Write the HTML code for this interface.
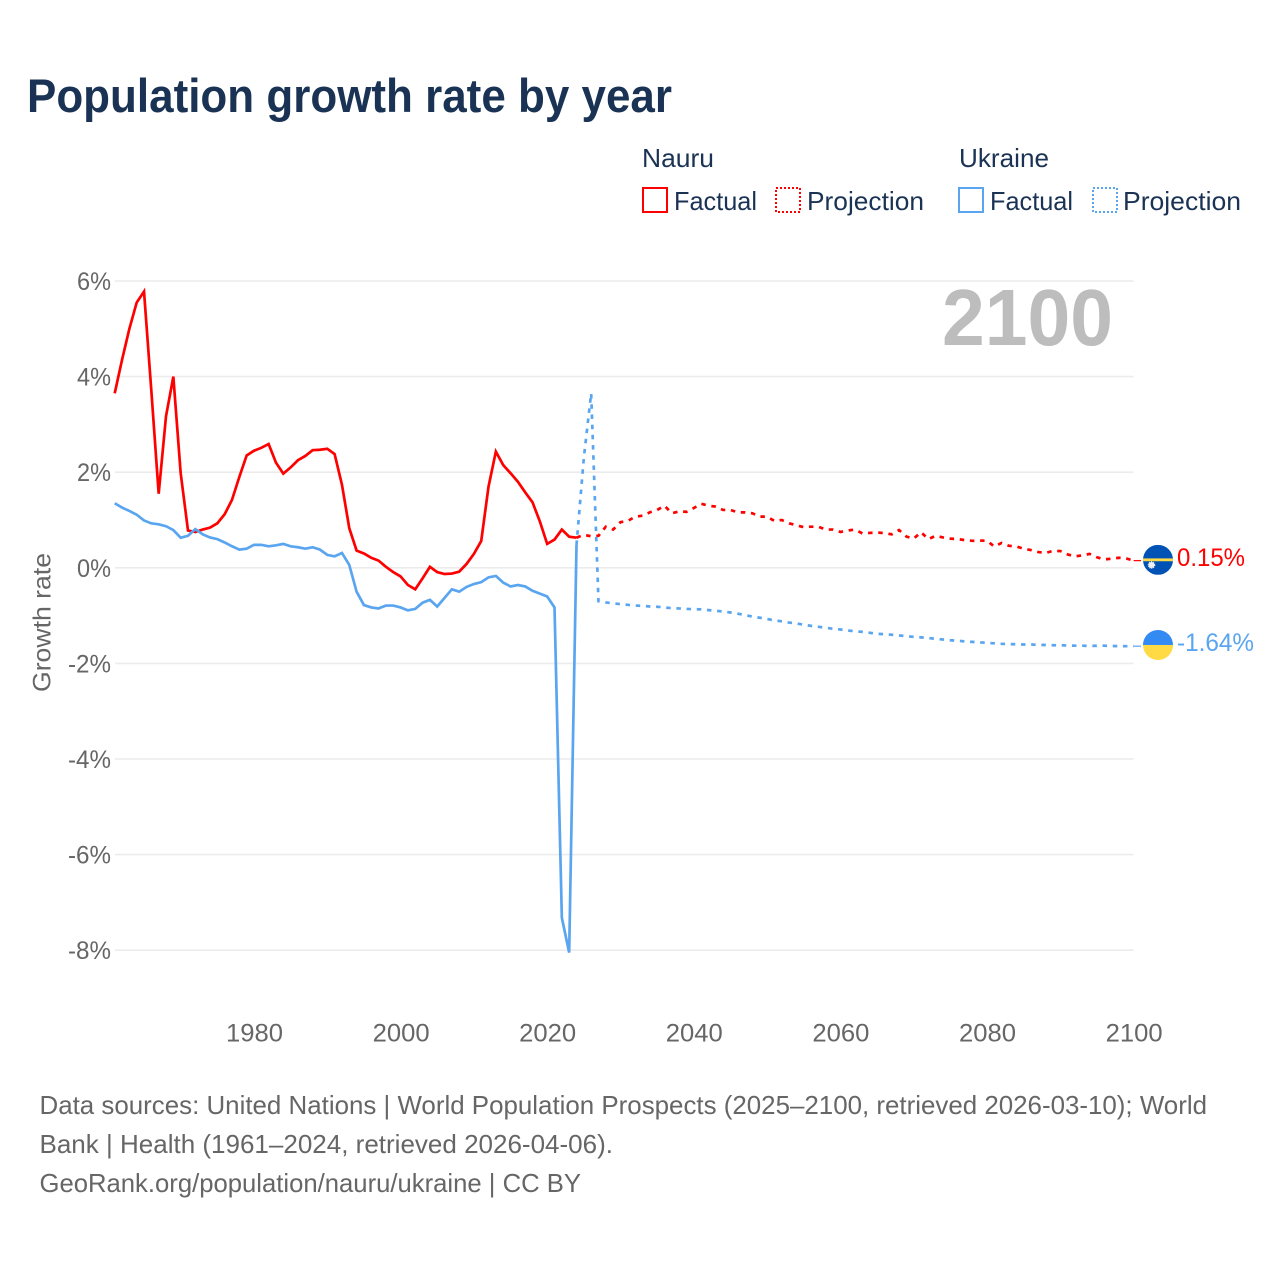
<!DOCTYPE html>
<html lang="en">
<head>
<meta charset="utf-8">
<title>Population growth rate by year</title>
<style>
html,body{margin:0;padding:0;background:#fff;}
#chart{display:block;width:1280px;height:1280px;font-family:"Liberation Sans",sans-serif;}
</style>
</head>
<body>
<svg id="chart" xmlns="http://www.w3.org/2000/svg" width="1280" height="1280" viewBox="0 0 1280 1280">
  <rect x="0" y="0" width="1280" height="1280" fill="#ffffff"/>
  <text x="27" y="112" font-size="47" font-weight="700" fill="#1a3354" textLength="645" lengthAdjust="spacingAndGlyphs">Population growth rate by year</text>

  <g font-size="26" fill="#1a3354">
    <text x="642" y="167" textLength="72" lengthAdjust="spacingAndGlyphs">Nauru</text>
    <rect x="643" y="188" width="24" height="24" fill="none" stroke="#ff0000" stroke-width="2"/>
    <text x="674" y="210" textLength="83" lengthAdjust="spacingAndGlyphs">Factual</text>
    <rect x="776" y="188" width="24" height="24" fill="none" stroke="#ff0000" stroke-width="2" stroke-dasharray="2 2"/>
    <text x="807" y="210" textLength="117" lengthAdjust="spacingAndGlyphs">Projection</text>
    <text x="959" y="167" textLength="90" lengthAdjust="spacingAndGlyphs">Ukraine</text>
    <rect x="959" y="188" width="24" height="24" fill="none" stroke="#5aa5f0" stroke-width="2"/>
    <text x="990" y="210" textLength="83" lengthAdjust="spacingAndGlyphs">Factual</text>
    <rect x="1093" y="188" width="24" height="24" fill="none" stroke="#5aa5f0" stroke-width="2" stroke-dasharray="2 2"/>
    <text x="1123" y="210" textLength="118" lengthAdjust="spacingAndGlyphs">Projection</text>
  </g>

  <g id="grid"></g>
  <g id="yticks" font-size="25" fill="#666666" text-anchor="end"></g>
  <g id="xticks" font-size="25" fill="#666666" text-anchor="middle"></g>
  <text transform="translate(50.5 692) rotate(-90)" font-size="25" fill="#666666" textLength="139" lengthAdjust="spacingAndGlyphs">Growth rate</text>
  <text id="current-year" x="1113" y="345" font-size="80" font-weight="700" fill="#bdbdbd" text-anchor="end" textLength="171" lengthAdjust="spacingAndGlyphs">2100</text>
  <g id="series"></g>

  <defs>
    <clipPath id="flag-clip"><circle cx="0" cy="0" r="15"/></clipPath>
  </defs>
  <g id="flag-nauru" clip-path="url(#flag-clip)">
    <rect x="-15" y="-15" width="30" height="30" fill="#0052b4"/>
    <rect x="-15" y="-1.4" width="30" height="2.8" fill="#ffda44"/>
    <circle cx="-6.5" cy="5.2" r="3" fill="#f0f0f0" stroke="#f0f0f0" stroke-width="1.6" stroke-dasharray="1 0.9"/>
  </g>
  <g id="flag-ukraine" clip-path="url(#flag-clip)">
    <rect x="-15" y="-15" width="30" height="15" fill="#338af3"/>
    <rect x="-15" y="0" width="30" height="15" fill="#ffda44"/>
  </g>
  <text id="value-nauru" x="1177" font-size="25" fill="#ff0000" textLength="68" lengthAdjust="spacingAndGlyphs"></text>
  <text id="value-ukraine" x="1177" font-size="25" fill="#5aa5f0" textLength="77" lengthAdjust="spacingAndGlyphs"></text>

  <g font-size="26" fill="#666666">
    <text x="39.5" y="1114" textLength="1167.5" lengthAdjust="spacingAndGlyphs">Data sources: United Nations | World Population Prospects (2025–2100, retrieved 2026-03-10); World</text>
    <text x="39.5" y="1153" textLength="573.5" lengthAdjust="spacingAndGlyphs">Bank | Health (1961–2024, retrieved 2026-04-06).</text>
    <text x="39.5" y="1192" textLength="541.5" lengthAdjust="spacingAndGlyphs">GeoRank.org/population/nauru/ukraine | CC BY</text>
  </g>
</svg>
<script>
const factualYears = [1961,1962,1963,1964,1965,1966,1967,1968,1969,1970,1971,1972,1973,1974,1975,1976,1977,1978,1979,1980,1981,1982,1983,1984,1985,1986,1987,1988,1989,1990,1991,1992,1993,1994,1995,1996,1997,1998,1999,2000,2001,2002,2003,2004,2005,2006,2007,2008,2009,2010,2011,2012,2013,2014,2015,2016,2017,2018,2019,2020,2021,2022,2023,2024];
const projectionYears = [2024,2025,2026,2027,2028,2029,2030,2031,2032,2033,2034,2035,2036,2037,2038,2039,2040,2041,2042,2043,2044,2045,2046,2047,2048,2049,2050,2051,2052,2053,2054,2055,2056,2057,2058,2059,2060,2061,2062,2063,2064,2065,2066,2067,2068,2069,2070,2071,2072,2073,2074,2075,2076,2077,2078,2079,2080,2081,2082,2083,2084,2085,2086,2087,2088,2089,2090,2091,2092,2093,2094,2095,2096,2097,2098,2099,2100];
const nauruFactual = [3.65,4.35,5.0,5.55,5.78,3.7,1.55,3.17,4.0,1.98,0.78,0.75,0.8,0.84,0.93,1.12,1.42,1.9,2.35,2.45,2.51,2.59,2.2,1.97,2.1,2.25,2.34,2.46,2.47,2.49,2.38,1.74,0.83,0.36,0.3,0.21,0.15,0.02,-0.09,-0.18,-0.36,-0.45,-0.22,0.02,-0.09,-0.13,-0.12,-0.08,0.08,0.29,0.56,1.7,2.43,2.15,1.98,1.8,1.58,1.37,0.97,0.5,0.59,0.8,0.65,0.63];
const ukraineFactual = [1.35,1.26,1.19,1.11,0.99,0.93,0.91,0.87,0.79,0.63,0.67,0.81,0.7,0.635,0.6,0.53,0.45,0.38,0.4,0.48,0.48,0.45,0.47,0.5,0.45,0.43,0.4,0.43,0.38,0.27,0.24,0.31,0.06,-0.5,-0.78,-0.83,-0.85,-0.79,-0.79,-0.83,-0.89,-0.86,-0.73,-0.67,-0.81,-0.63,-0.45,-0.5,-0.4,-0.34,-0.3,-0.2,-0.17,-0.31,-0.39,-0.36,-0.39,-0.48,-0.54,-0.6,-0.83,-7.32,-8.05,0.48];
const nauruProjection = [0.63,0.69,0.66,0.67,0.86,0.8,0.955,0.98,1.07,1.09,1.16,1.21,1.3,1.14,1.18,1.17,1.25,1.34,1.3,1.28,1.21,1.21,1.16,1.16,1.14,1.07,1.07,0.98,1.0,0.93,0.89,0.85,0.86,0.86,0.8,0.8,0.75,0.78,0.8,0.72,0.73,0.74,0.725,0.7,0.79,0.655,0.61,0.745,0.6,0.67,0.635,0.61,0.6,0.58,0.565,0.57,0.565,0.445,0.52,0.46,0.445,0.4,0.37,0.33,0.31,0.355,0.35,0.28,0.24,0.26,0.29,0.22,0.175,0.19,0.21,0.195,0.15];
const ukraineProjection = [0.48,2.3,3.65,-0.7,-0.725,-0.745,-0.76,-0.775,-0.79,-0.795,-0.81,-0.815,-0.83,-0.845,-0.85,-0.86,-0.865,-0.87,-0.885,-0.9,-0.915,-0.935,-0.96,-0.99,-1.02,-1.045,-1.07,-1.1,-1.12,-1.145,-1.165,-1.19,-1.215,-1.235,-1.255,-1.275,-1.29,-1.31,-1.33,-1.34,-1.36,-1.38,-1.39,-1.4,-1.415,-1.43,-1.445,-1.455,-1.47,-1.485,-1.5,-1.515,-1.525,-1.54,-1.55,-1.56,-1.57,-1.58,-1.59,-1.595,-1.6,-1.605,-1.605,-1.61,-1.615,-1.62,-1.62,-1.625,-1.63,-1.63,-1.635,-1.63,-1.63,-1.635,-1.64,-1.64,-1.64];
const yTickValues = [6,4,2,0,-2,-4,-6,-8];
const yTickLabels = ['6%','4%','2%','0%','-2%','-4%','-6%','-8%'];
const xTickValues = [1980,2000,2020,2040,2060,2080,2100];
const xTickLabels = ['1980','2000','2020','2040','2060','2080','2100'];

const SVG_NS = 'http://www.w3.org/2000/svg';
function xScale(year) { return 114.7 + (year - 1961) * (1133.6 - 114.7) / 139; }
function yScale(value) { return 567.8 - value * 47.8; }
function linePoints(years, values) {
  return values.map(function (v, i) { return xScale(years[i]).toFixed(2) + ',' + yScale(v).toFixed(2); }).join(' ');
}

const gridGroup = document.getElementById('grid');
const yGroup = document.getElementById('yticks');
yTickValues.forEach(function (v, i) {
  const gl = document.createElementNS(SVG_NS, 'line');
  
  
  gl.setAttribute('x1', 115);
  gl.setAttribute('x2', 1133.6);
  gl.setAttribute('y1', yScale(v));
  gl.setAttribute('y2', yScale(v));
  gl.setAttribute('stroke', '#ececec');
  gl.setAttribute('stroke-width', 1.6);
  gridGroup.appendChild(gl);
  const t = document.createElementNS(SVG_NS, 'text');
  
  
  t.setAttribute('x', 111);
  t.setAttribute('y', yScale(v) + 9);
  t.setAttribute('textLength', v < 0 ? 43 : 34);
  t.setAttribute('lengthAdjust', 'spacingAndGlyphs');
  t.textContent = yTickLabels[i];
  yGroup.appendChild(t);
});

const xGroup = document.getElementById('xticks');
xTickValues.forEach(function (v, i) {
  const t = document.createElementNS(SVG_NS, 'text');
  
  
  t.setAttribute('x', xScale(v) + 0.5);
  t.setAttribute('y', 1041.5);
  t.setAttribute('textLength', 57);
  t.setAttribute('lengthAdjust', 'spacingAndGlyphs');
  t.textContent = xTickLabels[i];
  xGroup.appendChild(t);
});

const seriesGroup = document.getElementById('series');

const nauruProjLine = document.createElementNS(SVG_NS, 'polyline');


nauruProjLine.setAttribute('points', linePoints(projectionYears, nauruProjection));
nauruProjLine.setAttribute('fill', 'none');
nauruProjLine.setAttribute('stroke', '#ff0000');
nauruProjLine.setAttribute('stroke-width', 2.7);
nauruProjLine.setAttribute('stroke-dasharray', '4.5 5.7');
seriesGroup.appendChild(nauruProjLine);

const nauruLine = document.createElementNS(SVG_NS, 'polyline');


nauruLine.setAttribute('points', linePoints(factualYears, nauruFactual));
nauruLine.setAttribute('fill', 'none');
nauruLine.setAttribute('stroke', '#ff0000');
nauruLine.setAttribute('stroke-width', 2.7);
seriesGroup.appendChild(nauruLine);

const ukraineProjLine = document.createElementNS(SVG_NS, 'polyline');


ukraineProjLine.setAttribute('points', linePoints(projectionYears, ukraineProjection));
ukraineProjLine.setAttribute('fill', 'none');
ukraineProjLine.setAttribute('stroke', '#5aa5f0');
ukraineProjLine.setAttribute('stroke-width', 2.7);
ukraineProjLine.setAttribute('stroke-dasharray', '4.5 5.7');
seriesGroup.appendChild(ukraineProjLine);

const ukraineLine = document.createElementNS(SVG_NS, 'polyline');


ukraineLine.setAttribute('points', linePoints(factualYears, ukraineFactual));
ukraineLine.setAttribute('fill', 'none');
ukraineLine.setAttribute('stroke', '#5aa5f0');
ukraineLine.setAttribute('stroke-width', 2.7);
seriesGroup.appendChild(ukraineLine);

const nauruEnd = nauruProjection[nauruProjection.length - 1];
const ukraineEnd = ukraineProjection[ukraineProjection.length - 1];

const nauruConnector = document.createElementNS(SVG_NS, 'line');


nauruConnector.setAttribute('x1', xScale(2100));
nauruConnector.setAttribute('x2', 1141);
nauruConnector.setAttribute('y1', yScale(nauruEnd));
nauruConnector.setAttribute('y2', yScale(nauruEnd));
nauruConnector.setAttribute('stroke', '#ff0000');
nauruConnector.setAttribute('stroke-width', 1.2);
seriesGroup.appendChild(nauruConnector);

const ukraineConnector = document.createElementNS(SVG_NS, 'line');


ukraineConnector.setAttribute('x1', xScale(2100));
ukraineConnector.setAttribute('x2', 1141);
ukraineConnector.setAttribute('y1', yScale(ukraineEnd));
ukraineConnector.setAttribute('y2', yScale(ukraineEnd));
ukraineConnector.setAttribute('stroke', '#5aa5f0');
ukraineConnector.setAttribute('stroke-width', 1.2);
seriesGroup.appendChild(ukraineConnector);

document.getElementById('flag-nauru').setAttribute('transform', 'translate(1158 ' + (yScale(nauruEnd) - 0.8) + ')');
document.getElementById('flag-ukraine').setAttribute('transform', 'translate(1158 ' + (yScale(ukraineEnd) - 1.2) + ')');

const nauruValue = document.getElementById('value-nauru');
nauruValue.setAttribute('y', yScale(nauruEnd) + 5.5);
nauruValue.textContent = nauruEnd.toFixed(2) + '%';

const ukraineValue = document.getElementById('value-ukraine');
ukraineValue.setAttribute('y', yScale(ukraineEnd) + 5);
ukraineValue.textContent = ukraineEnd.toFixed(2) + '%';
</script>
</body>
</html>
